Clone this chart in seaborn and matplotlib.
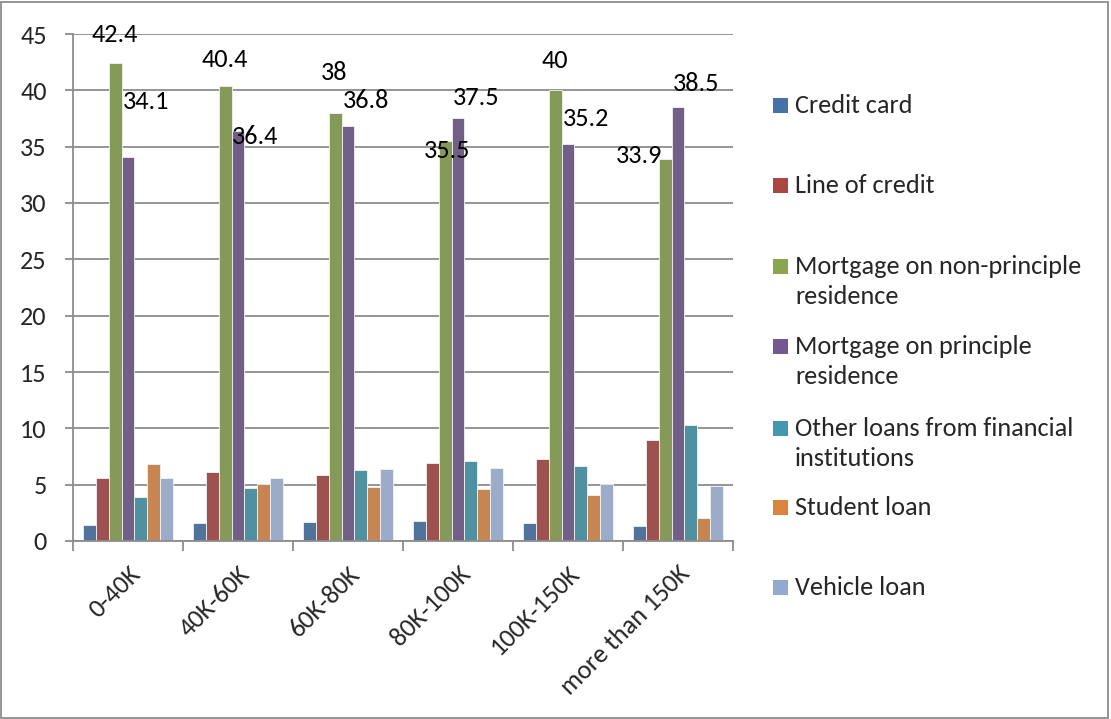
import matplotlib
matplotlib.use("Agg")
import matplotlib.pyplot as plt
import matplotlib.patches as mpatches
from matplotlib import font_manager
import seaborn as sns
import pandas as pd

# Income brackets and loan types
categories = ["0-40K", "40K-60K", "60K-80K", "80K-100K", "100K-150K", "more than 150K"]
series_names = [
    "Credit card",
    "Line of credit",
    "Mortgage on non-principle\nresidence",
    "Mortgage on principle\nresidence",
    "Other loans from financial\ninstitutions",
    "Student loan",
    "Vehicle loan",
]
credit_card = [1.4, 1.6, 1.7, 1.8, 1.6, 1.3]
line_of_credit = [5.6, 6.1, 5.9, 6.9, 7.3, 9.0]
mortgage_non_principle = [42.4, 40.4, 38.0, 35.5, 40.0, 33.9]
mortgage_principle = [34.1, 36.4, 36.8, 37.5, 35.2, 38.5]
other_loans = [3.9, 4.7, 6.3, 7.1, 6.7, 10.3]
student_loan = [6.8, 5.1, 4.8, 4.6, 4.1, 2.0]
vehicle_loan = [5.6, 5.6, 6.4, 6.5, 5.1, 4.9]

series_values = [credit_card, line_of_credit, mortgage_non_principle,
                 mortgage_principle, other_loans, student_loan, vehicle_loan]
colors = ["#4572A7", "#AA4643", "#89A54E", "#71588F", "#4198AF", "#DB843D", "#93A9CF"]

rows = []
for name, vals in zip(series_names, series_values):
    for cat, v in zip(categories, vals):
        rows.append({"bracket": cat, "loan": name, "value": v})
df = pd.DataFrame(rows)

sns.set_theme(style="white")
available = {f.name for f in font_manager.fontManager.ttflist}
family = next(f for f in ["Carlito", "Lato", "DejaVu Sans"] if f in available)
plt.rcParams["font.family"] = [family, "DejaVu Sans"]

fig = plt.figure(figsize=(11.11, 7.19), dpi=100)
W, H = 1111, 719

# size the text so the widest legend line spans ~288 px
probe = fig.text(0, 0, "Mortgage on non-principle", fontsize=10)
fig.canvas.draw()
w10 = probe.get_window_extent().width
probe.remove()
FS = 10 * 288 / w10

ax = fig.add_axes([73 / W, 1 - 541 / H, 660 / W, 507 / H])

sns.barplot(data=df, x="bracket", y="value", hue="loan", order=categories,
            hue_order=series_names, palette=colors, width=0.815, gap=0,
            edgecolor="#f2f2f2", linewidth=0.6, legend=False, ax=ax)

ax.set_ylim(0, 45)
ax.set_yticks(range(0, 46, 5))
ax.set_xlim(-0.5, len(categories) - 0.5)
ax.set_xlabel("")
ax.set_ylabel("")
ax.yaxis.grid(True, color="#8c8c8c", linewidth=1.3)
ax.set_axisbelow(True)
for side in ["top", "right"]:
    ax.spines[side].set_visible(False)
for side in ["left", "bottom"]:
    ax.spines[side].set_color("#8c8c8c")
    ax.spines[side].set_linewidth(1.3)

ax.tick_params(axis="y", length=6, width=1.3, color="#8c8c8c", direction="out",
               labelsize=FS, pad=13, left=True)
ax.set_xticks(range(len(categories)))
ax.set_xticklabels(categories, rotation=45, ha="right", rotation_mode="anchor",
                   fontsize=FS)
ax.tick_params(axis="x", length=0, pad=15)
# tick marks between categories on the x axis
ax.set_xticks([i - 0.5 for i in range(len(categories) + 1)], minor=True)
ax.tick_params(axis="x", which="minor", length=7, width=1.3, color="#8c8c8c",
               direction="out", bottom=True)

# value labels for the two mortgage series (offsets in pixels from bar top)
green_offsets = [(0, 29), (0, 26), (-1, 40), (2, -9), (0, 30), (-26, 4)]
purple_offsets = [(18, 55), (17, -6), (18, 26), (18, 21), (18, 26), (18, 24)]
n = len(series_names)
bw = 0.815 / n
for i, cat in enumerate(categories):
    for k, vals, offs in [(2, mortgage_non_principle, green_offsets),
                          (3, mortgage_principle, purple_offsets)]:
        x = i - 0.815 / 2 + (k + 0.5) * bw
        v = vals[i]
        ax.annotate(f"{v:g}", xy=(x, v), xytext=offs[i], textcoords="offset pixels",
                    ha="center", va="center", fontsize=FS, color="black",
                    annotation_clip=False)

# legend on the right: swatch centre per entry, lines 30 px apart
legend_y = [105, 185, 266, 346, 428, 507, 587]
for name, col, yy in zip(series_names, colors, legend_y):
    fig.patches.append(mpatches.Rectangle((773 / W, 1 - (yy + 7.5) / H), 15 / W, 15 / H,
                                          transform=fig.transFigure, facecolor=col,
                                          edgecolor="none"))
    for j, line in enumerate(name.split("\n")):
        fig.text(795 / W, 1 - (yy + 8 + 30 * j) / H, line, ha="left", va="baseline",
                 fontsize=FS)

# outer frame
fig.patches.append(mpatches.Rectangle((1 / W, 1 / H), 1 - 4 / W, 1 - 3 / H,
                                      transform=fig.transFigure, fill=False,
                                      edgecolor="#8c8c8c", linewidth=1.3))

fig.savefig("out.png", dpi=100)
